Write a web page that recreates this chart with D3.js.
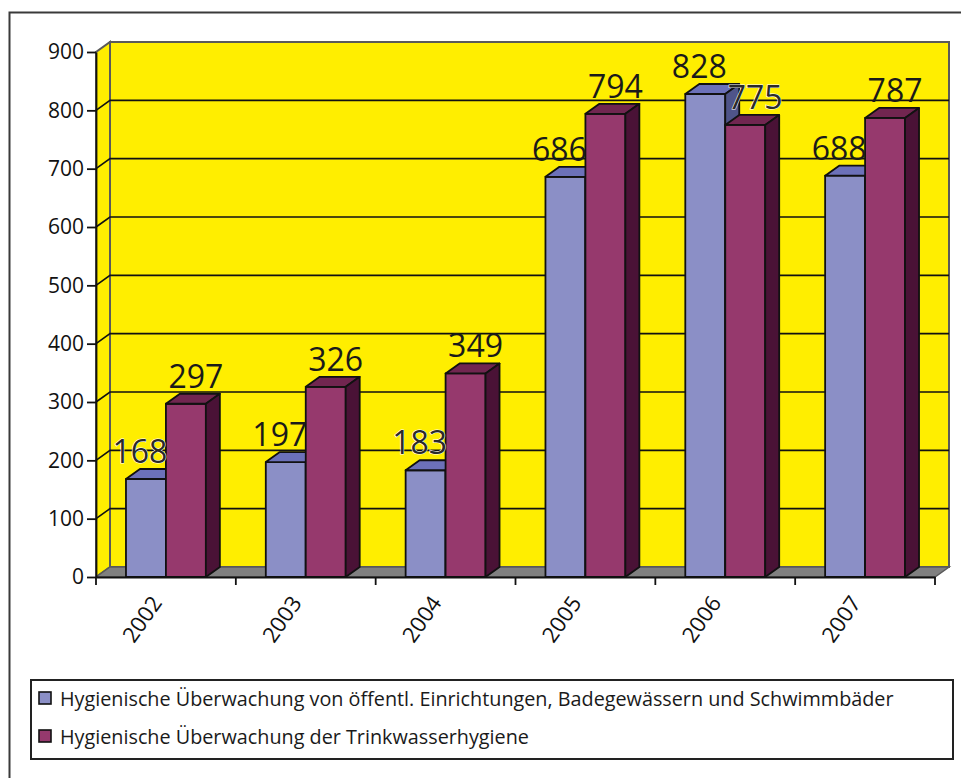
<!DOCTYPE html>
<html>
<head>
<meta charset="utf-8">
<script src="https://cdn.jsdelivr.net/npm/d3@7"></script>
<style>
  html, body { margin: 0; padding: 0; background: #fff; }
  svg { display: block; font-family: "Open Sans", "Noto Sans", sans-serif; }
</style>
</head>
<body>
<svg id="chart" width="961" height="778"></svg>
<script>
// Jahre und Messwerte
const years = ["2002", "2003", "2004", "2005", "2006", "2007"];
const seriesNames = [
  "Hygienische Überwachung von öffentl. Einrichtungen, Badegewässern und Schwimmbäder",
  "Hygienische Überwachung der Trinkwasserhygiene"
];
const badeValues = [168, 197, 183, 686, 828, 688];
const trinkValues = [297, 326, 349, 794, 775, 787];
const yTicks = [0, 100, 200, 300, 400, 500, 600, 700, 800, 900];

// Farben je Reihe: Vorderseite, Deckel, Seite
const palettes = [
  { front: "#8B8FC6", top: "#6C71B9", side: "#4F5489" },
  { front: "#96396D", top: "#712650", side: "#4A1236" }
];
const wallYellow = "#FFEE00";

const svg = d3.select("#chart");

// Rahmen um die gesamte Grafik
svg.append("rect")
  .attr("x", 9.5).attr("y", 12.5)
  .attr("width", 970).attr("height", 790)
  .attr("fill", "none").attr("stroke", "#3a3a3a").attr("stroke-width", 2);

// Skalen
const plotLeft = 96, plotRight = 935, plotBottom = 577, plotTop = 52;
const depth = { x: 14, y: -10 };
const y = d3.scaleLinear().domain([0, 900]).range([plotBottom, plotTop]);
const xCat = d3.scaleBand().domain(years).range([plotLeft, plotRight]).padding(0);
const xSub = d3.scaleBand().domain([0, 1]).range([0, xCat.bandwidth()])
  .paddingInner(0).paddingOuter(0.75);

const pts = arr => arr.map(p => p.join(",")).join(" ");

// Rückwand
const g = svg.append("g");
g.append("rect")
  .attr("x", plotLeft + depth.x).attr("y", plotTop + depth.y)
  .attr("width", plotRight - plotLeft).attr("height", plotBottom - plotTop)
  .attr("fill", wallYellow).attr("stroke", "#5a5a5a").attr("stroke-width", 2);

// Seitenwand
g.append("polygon")
  .attr("points", pts([[plotLeft, plotBottom], [plotLeft, plotTop], [plotLeft + depth.x, plotTop + depth.y], [plotLeft + depth.x, plotBottom + depth.y]]))
  .attr("fill", wallYellow).attr("stroke", "#5a5a5a").attr("stroke-width", 2);

// Gitterlinien auf Rück- und Seitenwand
const gridVals = yTicks.filter(v => v > 0 && v < 900);
g.selectAll(".grid").data(gridVals).join("polyline")
  .attr("class", "grid")
  .attr("points", v => pts([[plotLeft, y(v)], [plotLeft + depth.x, y(v) + depth.y], [plotRight + depth.x, y(v) + depth.y]]))
  .attr("fill", "none").attr("stroke", "#111").attr("stroke-width", 1.6);

// Boden
g.append("polygon")
  .attr("points", pts([[plotLeft, plotBottom], [plotRight, plotBottom], [plotRight + depth.x, plotBottom + depth.y], [plotLeft + depth.x, plotBottom + depth.y]]))
  .attr("fill", "#808080").attr("stroke", "#5a5a5a").attr("stroke-width", 1.5);

// Balken (Quader)
const bars = [];
years.forEach((yr, i) => {
  [badeValues[i], trinkValues[i]].forEach((v, s) => {
    bars.push({ year: yr, value: v, s: s, x0: xCat(yr) + xSub(s), w: xSub.bandwidth() });
  });
});

const barG = svg.append("g");
const bar = barG.selectAll(".bar").data(bars).join("g").attr("class", "bar");
bar.append("rect")
  .attr("x", d => d.x0).attr("y", d => y(d.value))
  .attr("width", d => d.w).attr("height", d => plotBottom - y(d.value))
  .attr("fill", d => palettes[d.s].front)
  .attr("stroke", "#111").attr("stroke-width", 1.8).attr("stroke-linejoin", "round");
bar.append("polygon")
  .attr("points", d => {
    const yt = y(d.value);
    return pts([[d.x0, yt], [d.x0 + d.w, yt], [d.x0 + d.w + depth.x, yt + depth.y], [d.x0 + depth.x, yt + depth.y]]);
  })
  .attr("fill", d => palettes[d.s].top)
  .attr("stroke", "#111").attr("stroke-width", 1.8).attr("stroke-linejoin", "round");
bar.append("polygon")
  .attr("points", d => {
    const yt = y(d.value), xr = d.x0 + d.w;
    return pts([[xr, yt], [xr + depth.x, yt + depth.y], [xr + depth.x, plotBottom + depth.y], [xr, plotBottom]]);
  })
  .attr("fill", d => palettes[d.s].side)
  .attr("stroke", "#111").attr("stroke-width", 1.8).attr("stroke-linejoin", "round");

// Y-Achse vorne
const yAxis = svg.append("g")
  .attr("transform", `translate(${plotLeft},0)`)
  .call(d3.axisLeft(y).tickValues(yTicks).tickSize(9).tickSizeOuter(0).tickPadding(3));
yAxis.select(".domain").attr("stroke", "#111").attr("stroke-width", 1.8);
yAxis.selectAll(".tick line").attr("stroke", "#111").attr("stroke-width", 1.8);
yAxis.selectAll(".tick text")
  .attr("font-size", 21).attr("fill", "#111")
  .attr("font-family", "'Open Sans', sans-serif");

// X-Achse: Linie, Trennstriche zwischen den Jahren, gedrehte Beschriftung
const xAxis = svg.append("g")
  .attr("transform", `translate(0,${plotBottom})`)
  .call(d3.axisBottom(xCat).tickSize(0).tickPadding(0));
xAxis.select(".domain").attr("stroke", "#111").attr("stroke-width", 1.8);
xAxis.selectAll(".tick text")
  .attr("font-size", 22).attr("fill", "#111")
  .attr("font-family", "'Open Sans', sans-serif")
  .attr("text-anchor", "end")
  .attr("dy", 0)
  .attr("transform", "translate(-3,26) rotate(-55)");

const sepTicks = years.map(yr => xCat(yr)).concat([plotRight]);
svg.append("g").selectAll("line").data(sepTicks).join("line")
  .attr("x1", d => d).attr("x2", d => d)
  .attr("y1", plotBottom).attr("y2", plotBottom + 8)
  .attr("stroke", "#111").attr("stroke-width", 1.8);

// Wertebeschriftungen
const labelShift = [-6, 10];
const haloSet = new Set(["2002-0", "2004-0", "2006-1"]);
svg.append("g").selectAll("text").data(bars).join("text")
  .attr("x", d => d.x0 + d.w / 2 + labelShift[d.s])
  .attr("y", d => y(d.value) + depth.y - 6)
  .attr("text-anchor", "middle")
  .attr("font-size", 32)
  .attr("fill", d => haloSet.has(d.year + "-" + d.s) ? "#2a2a2a" : "#1a1a1a")
  .attr("stroke", d => haloSet.has(d.year + "-" + d.s) ? "#fff" : "none")
  .attr("stroke-width", 1.1)
  .attr("paint-order", "stroke")
  .text(d => d.value);

// Legende
const legend = svg.append("g");
legend.append("rect")
  .attr("x", 31).attr("y", 680).attr("width", 922).attr("height", 79)
  .attr("fill", "#fff").attr("stroke", "#222").attr("stroke-width", 2);
const items = legend.selectAll(".item").data(seriesNames).join("g")
  .attr("class", "item")
  .attr("transform", (d, i) => `translate(39,${692 + i * 38})`);
items.append("rect")
  .attr("width", 12).attr("height", 12)
  .attr("fill", (d, i) => palettes[i].front)
  .attr("stroke", "#111").attr("stroke-width", 1.6);
items.append("text")
  .attr("x", 21).attr("y", 14)
  .attr("font-size", 19.8).attr("fill", "#1a1a1a")
  .text(d => d);
</script>
</body>
</html>
